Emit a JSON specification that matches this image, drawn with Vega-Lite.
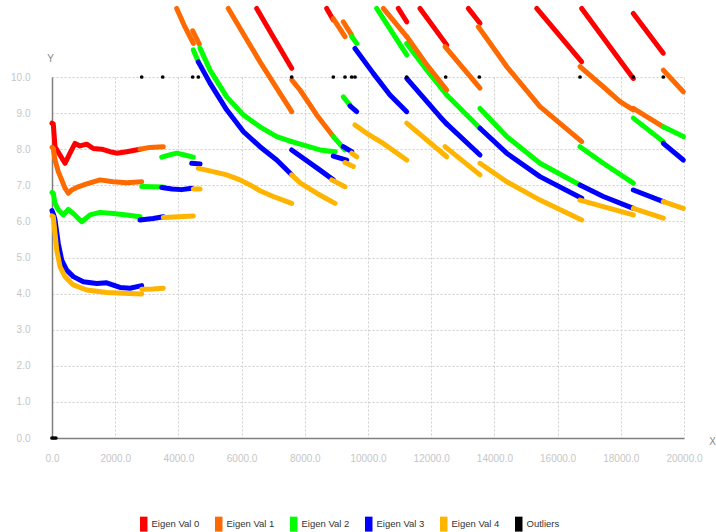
{
"$schema": "https://vega.github.io/schema/vega-lite/v6.json",
"autosize": "none",
"width": 632, "height": 361,
"padding": {"left": 52, "top": 77, "right": 32, "bottom": 94},
"background": "white",
"config": {"font": "Liberation Sans", "view": {"stroke": null}},
"datasets": {
"lines": [
{"s":"Eigen Val 0","g":"r0","x":0,"y":8.72},{"s":"Eigen Val 0","g":"r0","x":41,"y":8.7},{"s":"Eigen Val 0","g":"r0","x":95,"y":8.07},{"s":"Eigen Val 0","g":"r0","x":253,"y":7.84},{"s":"Eigen Val 0","g":"r0","x":411,"y":7.61},{"s":"Eigen Val 0","g":"r0","x":570,"y":7.89},{"s":"Eigen Val 0","g":"r0","x":728,"y":8.16},{"s":"Eigen Val 0","g":"r0","x":886,"y":8.09},{"s":"Eigen Val 0","g":"r0","x":1098,"y":8.14},{"s":"Eigen Val 0","g":"r0","x":1307,"y":8.02},{"s":"Eigen Val 0","g":"r0","x":1573,"y":8.0},{"s":"Eigen Val 0","g":"r0","x":1835,"y":7.93},{"s":"Eigen Val 0","g":"r0","x":2047,"y":7.89},{"s":"Eigen Val 0","g":"r0","x":2364,"y":7.93},{"s":"Eigen Val 0","g":"r0","x":2785,"y":8.0},
{"s":"Eigen Val 1","g":"o0","x":0,"y":8.05},{"s":"Eigen Val 1","g":"o0","x":41,"y":8.02},{"s":"Eigen Val 1","g":"o0","x":95,"y":7.7},{"s":"Eigen Val 1","g":"o0","x":199,"y":7.38},{"s":"Eigen Val 1","g":"o0","x":307,"y":7.15},{"s":"Eigen Val 1","g":"o0","x":411,"y":6.92},{"s":"Eigen Val 1","g":"o0","x":516,"y":6.78},{"s":"Eigen Val 1","g":"o0","x":623,"y":6.87},{"s":"Eigen Val 1","g":"o0","x":782,"y":6.94},{"s":"Eigen Val 1","g":"o0","x":1098,"y":7.04},{"s":"Eigen Val 1","g":"o0","x":1519,"y":7.15},{"s":"Eigen Val 1","g":"o0","x":1940,"y":7.1},{"s":"Eigen Val 1","g":"o0","x":2364,"y":7.07},{"s":"Eigen Val 1","g":"o0","x":2839,"y":7.1},
{"s":"Eigen Val 2","g":"g0","x":0,"y":6.8},{"s":"Eigen Val 2","g":"g0","x":41,"y":6.78},{"s":"Eigen Val 2","g":"g0","x":95,"y":6.5},{"s":"Eigen Val 2","g":"g0","x":199,"y":6.32},{"s":"Eigen Val 2","g":"g0","x":358,"y":6.18},{"s":"Eigen Val 2","g":"g0","x":516,"y":6.33},{"s":"Eigen Val 2","g":"g0","x":674,"y":6.22},{"s":"Eigen Val 2","g":"g0","x":940,"y":5.99},{"s":"Eigen Val 2","g":"g0","x":1203,"y":6.18},{"s":"Eigen Val 2","g":"g0","x":1519,"y":6.25},{"s":"Eigen Val 2","g":"g0","x":1940,"y":6.22},{"s":"Eigen Val 2","g":"g0","x":2364,"y":6.18},{"s":"Eigen Val 2","g":"g0","x":2785,"y":6.13},
{"s":"Eigen Val 3","g":"b0","x":0,"y":6.3},{"s":"Eigen Val 3","g":"b0","x":63,"y":6.15},{"s":"Eigen Val 3","g":"b0","x":95,"y":6.04},{"s":"Eigen Val 3","g":"b0","x":199,"y":5.39},{"s":"Eigen Val 3","g":"b0","x":307,"y":4.93},{"s":"Eigen Val 3","g":"b0","x":465,"y":4.65},{"s":"Eigen Val 3","g":"b0","x":674,"y":4.47},{"s":"Eigen Val 3","g":"b0","x":991,"y":4.33},{"s":"Eigen Val 3","g":"b0","x":1415,"y":4.28},{"s":"Eigen Val 3","g":"b0","x":1731,"y":4.3},{"s":"Eigen Val 3","g":"b0","x":2152,"y":4.17},{"s":"Eigen Val 3","g":"b0","x":2468,"y":4.15},{"s":"Eigen Val 3","g":"b0","x":2839,"y":4.22},
{"s":"Eigen Val 4","g":"y0","x":0,"y":6.15},{"s":"Eigen Val 4","g":"y0","x":41,"y":6.13},{"s":"Eigen Val 4","g":"y0","x":95,"y":5.67},{"s":"Eigen Val 4","g":"y0","x":149,"y":5.21},{"s":"Eigen Val 4","g":"y0","x":253,"y":4.75},{"s":"Eigen Val 4","g":"y0","x":411,"y":4.47},{"s":"Eigen Val 4","g":"y0","x":674,"y":4.24},{"s":"Eigen Val 4","g":"y0","x":1098,"y":4.1},{"s":"Eigen Val 4","g":"y0","x":1731,"y":4.03},{"s":"Eigen Val 4","g":"y0","x":2256,"y":4.01},{"s":"Eigen Val 4","g":"y0","x":2839,"y":3.99},
{"s":"Eigen Val 1","g":"o1","x":2785,"y":8.0},{"s":"Eigen Val 1","g":"o1","x":3100,"y":8.05},{"s":"Eigen Val 1","g":"o1","x":3522,"y":8.07},
{"s":"Eigen Val 2","g":"g1","x":2839,"y":6.97},{"s":"Eigen Val 2","g":"g1","x":3522,"y":6.95},
{"s":"Eigen Val 3","g":"b1","x":2785,"y":6.04},{"s":"Eigen Val 3","g":"b1","x":3200,"y":6.08},{"s":"Eigen Val 3","g":"b1","x":3522,"y":6.13},
{"s":"Eigen Val 4","g":"y1","x":2839,"y":4.12},{"s":"Eigen Val 4","g":"y1","x":3200,"y":4.13},{"s":"Eigen Val 4","g":"y1","x":3522,"y":4.15},
{"s":"Eigen Val 1","g":"o2","x":3946,"y":11.9},{"s":"Eigen Val 1","g":"o2","x":4200,"y":11.4},{"s":"Eigen Val 1","g":"o2","x":4472,"y":10.93},
{"s":"Eigen Val 2","g":"g2","x":3472,"y":7.78},{"s":"Eigen Val 2","g":"g2","x":3750,"y":7.85},{"s":"Eigen Val 2","g":"g2","x":3946,"y":7.89},{"s":"Eigen Val 2","g":"g2","x":4200,"y":7.84},{"s":"Eigen Val 2","g":"g2","x":4472,"y":7.78},
{"s":"Eigen Val 3","g":"b2","x":3472,"y":6.94},{"s":"Eigen Val 3","g":"b2","x":3800,"y":6.9},{"s":"Eigen Val 3","g":"b2","x":4100,"y":6.88},{"s":"Eigen Val 3","g":"b2","x":4421,"y":6.92},
{"s":"Eigen Val 4","g":"y2","x":3522,"y":6.11},{"s":"Eigen Val 4","g":"y2","x":4000,"y":6.13},{"s":"Eigen Val 4","g":"y2","x":4472,"y":6.15},
{"s":"Eigen Val 1","g":"o3","x":4453,"y":11.28},{"s":"Eigen Val 1","g":"o3","x":4661,"y":10.91},
{"s":"Eigen Val 2","g":"g3","x":4472,"y":10.75},{"s":"Eigen Val 2","g":"g3","x":4630,"y":10.42},
{"s":"Eigen Val 3","g":"b3","x":4421,"y":7.61},{"s":"Eigen Val 3","g":"b3","x":4684,"y":7.59},
{"s":"Eigen Val 4","g":"y3","x":4472,"y":6.9},{"s":"Eigen Val 4","g":"y3","x":4684,"y":6.9},
{"s":"Eigen Val 0","g":"r4","x":6478,"y":11.9},{"s":"Eigen Val 0","g":"r4","x":7003,"y":11.11},{"s":"Eigen Val 0","g":"r4","x":7585,"y":10.24},
{"s":"Eigen Val 1","g":"o4","x":5579,"y":11.9},{"s":"Eigen Val 1","g":"o4","x":6582,"y":10.42},{"s":"Eigen Val 1","g":"o4","x":7585,"y":9.04},
{"s":"Eigen Val 2","g":"g4","x":4684,"y":10.8},{"s":"Eigen Val 2","g":"g4","x":5000,"y":10.19},{"s":"Eigen Val 2","g":"g4","x":5528,"y":9.45},{"s":"Eigen Val 2","g":"g4","x":6054,"y":8.95},{"s":"Eigen Val 2","g":"g4","x":6582,"y":8.62},{"s":"Eigen Val 2","g":"g4","x":7111,"y":8.35},{"s":"Eigen Val 2","g":"g4","x":7585,"y":8.21},
{"s":"Eigen Val 3","g":"b4","x":4630,"y":10.42},{"s":"Eigen Val 3","g":"b4","x":5000,"y":9.83},{"s":"Eigen Val 3","g":"b4","x":5528,"y":9.09},{"s":"Eigen Val 3","g":"b4","x":6054,"y":8.49},{"s":"Eigen Val 3","g":"b4","x":6582,"y":8.07},{"s":"Eigen Val 3","g":"b4","x":7111,"y":7.7},{"s":"Eigen Val 3","g":"b4","x":7585,"y":7.29},
{"s":"Eigen Val 4","g":"y4","x":4630,"y":7.47},{"s":"Eigen Val 4","g":"y4","x":5000,"y":7.4},{"s":"Eigen Val 4","g":"y4","x":5528,"y":7.29},{"s":"Eigen Val 4","g":"y4","x":5949,"y":7.15},{"s":"Eigen Val 4","g":"y4","x":6266,"y":7.01},{"s":"Eigen Val 4","g":"y4","x":6582,"y":6.85},{"s":"Eigen Val 4","g":"y4","x":7003,"y":6.69},{"s":"Eigen Val 4","g":"y4","x":7585,"y":6.5},
{"s":"Eigen Val 0","g":"r5","x":8693,"y":11.9},{"s":"Eigen Val 0","g":"r5","x":8902,"y":11.58},
{"s":"Eigen Val 1","g":"o5","x":7585,"y":9.92},{"s":"Eigen Val 1","g":"o5","x":7848,"y":9.64},{"s":"Eigen Val 1","g":"o5","x":8377,"y":8.95},{"s":"Eigen Val 1","g":"o5","x":8902,"y":8.35},
{"s":"Eigen Val 2","g":"g5","x":7585,"y":8.21},{"s":"Eigen Val 2","g":"g5","x":8481,"y":7.98},{"s":"Eigen Val 2","g":"g5","x":8956,"y":7.93},
{"s":"Eigen Val 3","g":"b5","x":7585,"y":7.98},{"s":"Eigen Val 3","g":"b5","x":8481,"y":7.42},{"s":"Eigen Val 3","g":"b5","x":8902,"y":7.15},
{"s":"Eigen Val 4","g":"y5","x":7585,"y":7.29},{"s":"Eigen Val 4","g":"y5","x":7848,"y":7.07},{"s":"Eigen Val 4","g":"y5","x":8377,"y":6.78},{"s":"Eigen Val 4","g":"y5","x":8956,"y":6.5},
{"s":"Eigen Val 1","g":"o6","x":8902,"y":11.62},{"s":"Eigen Val 1","g":"o6","x":9272,"y":11.12},
{"s":"Eigen Val 2","g":"g6","x":8902,"y":8.35},{"s":"Eigen Val 2","g":"g6","x":9272,"y":7.98},
{"s":"Eigen Val 3","g":"b6","x":8902,"y":7.81},{"s":"Eigen Val 3","g":"b6","x":9326,"y":7.7},
{"s":"Eigen Val 4","g":"y6","x":8851,"y":7.15},{"s":"Eigen Val 4","g":"y6","x":9272,"y":6.96},
{"s":"Eigen Val 1","g":"o7","x":9218,"y":11.53},{"s":"Eigen Val 1","g":"o7","x":9484,"y":11.16},
{"s":"Eigen Val 2","g":"g7","x":9218,"y":9.45},{"s":"Eigen Val 2","g":"g7","x":9430,"y":9.22},
{"s":"Eigen Val 3","g":"b7","x":9218,"y":8.07},{"s":"Eigen Val 3","g":"b7","x":9484,"y":7.93},
{"s":"Eigen Val 4","g":"y7","x":9272,"y":7.63},{"s":"Eigen Val 4","g":"y7","x":9535,"y":7.52},
{"s":"Eigen Val 2","g":"g8","x":9484,"y":11.12},{"s":"Eigen Val 2","g":"g8","x":9643,"y":10.93},
{"s":"Eigen Val 3","g":"b8","x":9430,"y":9.2},{"s":"Eigen Val 3","g":"b8","x":9643,"y":9.04},
{"s":"Eigen Val 4","g":"y8","x":9484,"y":7.89},{"s":"Eigen Val 4","g":"y8","x":9643,"y":7.79},
{"s":"Eigen Val 0","g":"r9","x":10959,"y":11.9},{"s":"Eigen Val 0","g":"r9","x":11225,"y":11.53},
{"s":"Eigen Val 1","g":"o9","x":10484,"y":11.9},{"s":"Eigen Val 1","g":"o9","x":11225,"y":11.12},
{"s":"Eigen Val 2","g":"g9","x":10275,"y":11.9},{"s":"Eigen Val 2","g":"g9","x":11225,"y":10.61},
{"s":"Eigen Val 3","g":"b9","x":9589,"y":10.79},{"s":"Eigen Val 3","g":"b9","x":10168,"y":10.1},{"s":"Eigen Val 3","g":"b9","x":10696,"y":9.5},{"s":"Eigen Val 3","g":"b9","x":11225,"y":9.04},
{"s":"Eigen Val 4","g":"y9","x":9589,"y":8.67},{"s":"Eigen Val 4","g":"y9","x":9959,"y":8.44},{"s":"Eigen Val 4","g":"y9","x":10484,"y":8.16},{"s":"Eigen Val 4","g":"y9","x":11225,"y":7.7},
{"s":"Eigen Val 0","g":"r10","x":11646,"y":11.9},{"s":"Eigen Val 0","g":"r10","x":12491,"y":10.89},
{"s":"Eigen Val 2","g":"g10","x":11225,"y":10.93},{"s":"Eigen Val 2","g":"g10","x":11850,"y":10.2},{"s":"Eigen Val 2","g":"g10","x":12491,"y":9.5},
{"s":"Eigen Val 1","g":"o10","x":11225,"y":11.12},{"s":"Eigen Val 1","g":"o10","x":11850,"y":10.35},{"s":"Eigen Val 1","g":"o10","x":12491,"y":9.64},
{"s":"Eigen Val 3","g":"b10","x":11225,"y":9.96},{"s":"Eigen Val 3","g":"b10","x":12278,"y":8.9},{"s":"Eigen Val 3","g":"b10","x":12491,"y":8.7},
{"s":"Eigen Val 4","g":"y10","x":11225,"y":8.72},{"s":"Eigen Val 4","g":"y10","x":12491,"y":7.79},
{"s":"Eigen Val 0","g":"r11","x":13174,"y":11.9},{"s":"Eigen Val 0","g":"r11","x":13544,"y":11.49},
{"s":"Eigen Val 1","g":"o11","x":12437,"y":10.84},{"s":"Eigen Val 1","g":"o11","x":13544,"y":9.69},
{"s":"Eigen Val 2","g":"g11","x":12491,"y":9.5},{"s":"Eigen Val 2","g":"g11","x":13544,"y":8.58},
{"s":"Eigen Val 3","g":"b11","x":12491,"y":8.7},{"s":"Eigen Val 3","g":"b11","x":13544,"y":7.84},
{"s":"Eigen Val 4","g":"y11","x":12437,"y":8.07},{"s":"Eigen Val 4","g":"y11","x":13544,"y":7.29},
{"s":"Eigen Val 0","g":"r12","x":15339,"y":11.9},{"s":"Eigen Val 0","g":"r12","x":16763,"y":10.42},
{"s":"Eigen Val 1","g":"o12","x":13491,"y":11.39},{"s":"Eigen Val 1","g":"o12","x":14389,"y":10.29},{"s":"Eigen Val 1","g":"o12","x":15443,"y":9.18},{"s":"Eigen Val 1","g":"o12","x":16763,"y":8.21},
{"s":"Eigen Val 2","g":"g12","x":13544,"y":9.13},{"s":"Eigen Val 2","g":"g12","x":14389,"y":8.35},{"s":"Eigen Val 2","g":"g12","x":15443,"y":7.61},{"s":"Eigen Val 2","g":"g12","x":16709,"y":7.01},
{"s":"Eigen Val 3","g":"b12","x":13544,"y":8.58},{"s":"Eigen Val 3","g":"b12","x":14389,"y":7.89},{"s":"Eigen Val 3","g":"b12","x":15443,"y":7.24},{"s":"Eigen Val 3","g":"b12","x":16763,"y":6.64},
{"s":"Eigen Val 4","g":"y12","x":13544,"y":7.61},{"s":"Eigen Val 4","g":"y12","x":14389,"y":7.1},{"s":"Eigen Val 4","g":"y12","x":15443,"y":6.59},{"s":"Eigen Val 4","g":"y12","x":16763,"y":6.04},
{"s":"Eigen Val 0","g":"r13","x":16763,"y":11.9},{"s":"Eigen Val 0","g":"r13","x":18396,"y":9.96},
{"s":"Eigen Val 1","g":"o13","x":16709,"y":10.29},{"s":"Eigen Val 1","g":"o13","x":17446,"y":9.73},{"s":"Eigen Val 1","g":"o13","x":17975,"y":9.32},{"s":"Eigen Val 1","g":"o13","x":18396,"y":9.09},
{"s":"Eigen Val 2","g":"g13","x":16709,"y":8.07},{"s":"Eigen Val 2","g":"g13","x":17446,"y":7.61},{"s":"Eigen Val 2","g":"g13","x":18396,"y":7.06},
{"s":"Eigen Val 3","g":"b13","x":16709,"y":7.01},{"s":"Eigen Val 3","g":"b13","x":17446,"y":6.69},{"s":"Eigen Val 3","g":"b13","x":18396,"y":6.36},
{"s":"Eigen Val 4","g":"y13","x":16709,"y":6.59},{"s":"Eigen Val 4","g":"y13","x":17446,"y":6.41},{"s":"Eigen Val 4","g":"y13","x":18396,"y":6.18},
{"s":"Eigen Val 0","g":"r14","x":18396,"y":11.76},{"s":"Eigen Val 0","g":"r14","x":19345,"y":10.66},
{"s":"Eigen Val 1","g":"o14","x":18396,"y":9.13},{"s":"Eigen Val 1","g":"o14","x":19345,"y":8.62},
{"s":"Eigen Val 2","g":"g14","x":18396,"y":8.86},{"s":"Eigen Val 2","g":"g14","x":19345,"y":8.21},
{"s":"Eigen Val 3","g":"b14","x":18396,"y":6.87},{"s":"Eigen Val 3","g":"b14","x":19345,"y":6.55},
{"s":"Eigen Val 4","g":"y14","x":18396,"y":6.36},{"s":"Eigen Val 4","g":"y14","x":19345,"y":6.09},
{"s":"Eigen Val 1","g":"o15","x":19345,"y":10.19},{"s":"Eigen Val 1","g":"o15","x":19978,"y":9.59},
{"s":"Eigen Val 2","g":"g15","x":19345,"y":8.62},{"s":"Eigen Val 2","g":"g15","x":19978,"y":8.35},
{"s":"Eigen Val 3","g":"b15","x":19345,"y":8.16},{"s":"Eigen Val 3","g":"b15","x":19978,"y":7.7},
{"s":"Eigen Val 4","g":"y15","x":19345,"y":6.55},{"s":"Eigen Val 4","g":"y15","x":19978,"y":6.36}
],
"outliers": [
{"s":"Outliers","x":0,"y":0},{"s":"Outliers","x":60,"y":0},{"s":"Outliers","x":120,"y":0},
{"s":"Outliers","x":2839,"y":10},{"s":"Outliers","x":3503,"y":10},{"s":"Outliers","x":4453,"y":10},{"s":"Outliers","x":4630,"y":10},{"s":"Outliers","x":7585,"y":10},{"s":"Outliers","x":8902,"y":10},{"s":"Outliers","x":9272,"y":10},{"s":"Outliers","x":9484,"y":10},{"s":"Outliers","x":9589,"y":10},{"s":"Outliers","x":11225,"y":10},{"s":"Outliers","x":12459,"y":10},{"s":"Outliers","x":13522,"y":10},{"s":"Outliers","x":16709,"y":10},{"s":"Outliers","x":18396,"y":10},{"s":"Outliers","x":19345,"y":10}
]
},
"encoding": {
"x": {"field": "x", "type": "quantitative", "scale": {"domain": [0, 20000], "nice": false, "zero": false},
  "axis": {"values": [0,2000,4000,6000,8000,10000,12000,14000,16000,18000,20000], "format": ".1f", "grid": true, "gridDash": [2,2], "gridColor": "#cfcfcf", "domainColor": "#7f7f7f", "domainWidth": 1.5, "ticks": false, "tickSize": 0, "labelColor": "#c6c6c6", "labelFontSize": 10, "labelPadding": 15, "labelFlush": false,
   "title": "X", "titleColor": "#888888", "titleFontSize": 10, "titleFontWeight": "normal", "titleX": 660, "titleY": 3, "titleAlign": "center", "titleBaseline": "middle"}},
"y": {"field": "y", "type": "quantitative", "scale": {"domain": [0, 10], "nice": false},
  "axis": {"values": [0,1,2,3,4,5,6,7,8,9,10], "format": ".1f", "grid": true, "gridDash": [2,2], "gridColor": "#cfcfcf", "domainColor": "#7f7f7f", "domainWidth": 1.5, "ticks": false, "tickSize": 0, "labelColor": "#c6c6c6", "labelFontSize": 10, "labelPadding": 22,
   "title": "Y", "titleColor": "#888888", "titleFontSize": 10, "titleFontWeight": "normal", "titleAngle": 0, "titleX": -2, "titleY": -19, "titleAlign": "center", "titleBaseline": "middle"}},
"color": {"field": "s", "type": "nominal",
  "scale": {"domain": ["Eigen Val 0","Eigen Val 1","Eigen Val 2","Eigen Val 3","Eigen Val 4","Outliers"], "range": ["#ff0000","#ff6a00","#00ff00","#0000ff","#ffb400","#000000"]},
  "legend": {"title": null, "orient": "none", "legendX": 87, "legendY": 442, "direction": "horizontal", "padding": 0, "columnPadding": 14, "labelFontSize": 9.5, "labelColor": "#333333", "labelOffset": 3, "symbolSize": 56, "symbolType": "M-1,-2L1,-2L1,2L-1,2Z",
   "encode": {"symbols": {"update": {"fill": {"scale": "color", "field": "value"}, "stroke": {"value": "transparent"}, "strokeWidth": {"value": 0}, "opacity": {"value": 1}, "shape": {"value": "M-1,-2L1,-2L1,2L-1,2Z"}, "size": {"value": 56}}}}}}
},
"layer": [
{"data": {"name": "lines"}, "mark": {"type": "line", "strokeWidth": 5, "strokeCap": "round", "strokeJoin": "round", "clip": false},
 "encoding": {"detail": {"field": "g"}}},
{"data": {"name": "outliers"}, "mark": {"type": "circle", "size": 14, "opacity": 1, "clip": false}}
]
}
